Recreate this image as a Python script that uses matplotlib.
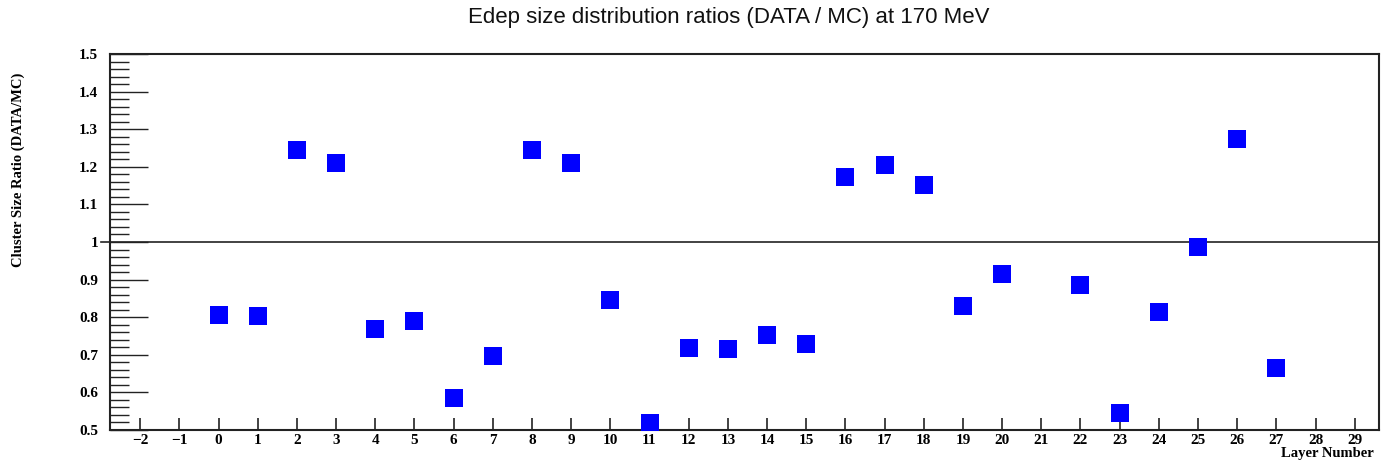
import matplotlib.pyplot as plt
from matplotlib.ticker import MultipleLocator

####################################################
# Data
####################################################
layers = [0, 1, 2, 3, 4, 5, 6, 7, 8, 9, 10, 11, 12, 13, 14,
          15, 16, 17, 18, 19, 20, 22, 23, 24, 25, 26, 27]
ratios = [0.807, 0.804, 1.245, 1.210, 0.769, 0.791, 0.584, 0.698, 1.245,
          1.210, 0.847, 0.519, 0.719, 0.715, 0.753, 0.728, 1.173, 1.206,
          1.152, 0.830, 0.914, 0.885, 0.546, 0.813, 0.987, 1.274, 0.665]

x_range = (-2.77, 29.62)
y_range = (0.5, 1.5)
x_ticks = list(range(-2, 30))

title = 'Edep size distribution ratios (DATA / MC) at 170 MeV'
x_label = 'Layer Number'
y_label = 'Cluster Size Ratio (DATA/MC)'

####################################################
# Plot
####################################################
fig = plt.figure(figsize=(13.84, 4.63), dpi=100)
ax = fig.add_axes([0.0795, 0.0713, 0.9169, 0.8121])

ax.plot(layers, ratios, linestyle='none', marker='s', markersize=13.5,
        markeredgewidth=0, color='#0000ff', zorder=3)

# reference line at ratio = 1
ax.plot([-3.0, x_range[1]], [1.0, 1.0], color='#222222', linewidth=1.2,
        clip_on=False, zorder=2)

ax.set_xlim(*x_range)
ax.set_ylim(*y_range)

ax.set_xticks(x_ticks)
ax.set_xticklabels([str(t) if t >= 0 else '\u2212' + str(-t) for t in x_ticks])
ax.yaxis.set_minor_locator(MultipleLocator(0.02))
ax.set_yticks([0.5, 0.6, 0.7, 0.8, 0.9, 1.0, 1.1, 1.2, 1.3, 1.4, 1.5])
ax.set_yticklabels(['0.5', '0.6', '0.7', '0.8', '0.9', '1',
                    '1.1', '1.2', '1.3', '1.4', '1.5'])

tick_font = dict(family='Liberation Serif', weight='bold', size=11)
label_font = dict(family='Liberation Serif', weight='bold', size=10.5)
for lab in ax.get_xticklabels() + ax.get_yticklabels():
    lab.set_fontproperties(tick_font)

ax.tick_params(axis='x', which='major', direction='in', length=8.6,
               width=1.2, color='#222222', pad=3.0, top=False)
ax.tick_params(axis='x', which='minor', bottom=False, top=False)
ax.tick_params(axis='y', which='major', direction='in', length=27,
               width=1.0, color='#222222', pad=8.5, right=False)
ax.tick_params(axis='y', which='minor', direction='in', length=13.7,
               width=1.0, color='#222222', right=False)

for side in ['left', 'bottom', 'top', 'right']:
    ax.spines[side].set_linewidth(1.5)
    ax.spines[side].set_color('#222222')

fig.text(729 / 1384, 1 - 18 / 463, title, family='Liberation Sans',
         size=16, ha='center', va='center', color='#111111')
fig.text(1374 / 1384, 1 - 454 / 463, x_label, ha='right', va='center',
         **label_font)
fig.text(18 / 1384, 1 - 170 / 463, y_label, rotation=90, ha='center',
         va='center', **label_font)

fig.savefig('out.png', dpi=100)
